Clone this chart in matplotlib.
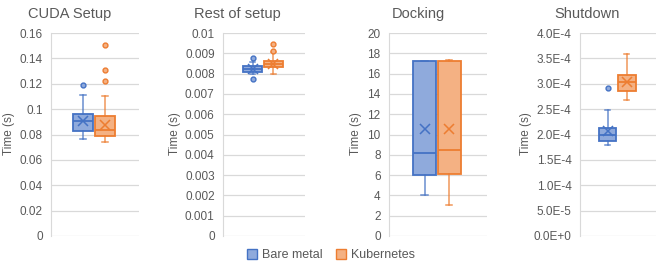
import matplotlib
matplotlib.use("Agg")
import matplotlib.pyplot as plt
from matplotlib.ticker import FuncFormatter, MultipleLocator

plt.rcParams['font.family'] = ['Liberation Sans', 'DejaVu Sans']

titles = ["CUDA Setup", "Rest of setup", "Docking", "Shutdown"]
series = ["Bare metal", "Kubernetes"]

# box stats per panel: [bare metal, kubernetes]
whislo = [[0.0766, 0.0739], [0.00797, 0.0080], [4.07, 3.1], [1.80e-4, 2.68e-4]]
q1 = [[0.0829, 0.0787], [0.0081, 0.00832], [5.97, 6.07], [1.88e-4, 2.86e-4]]
med = [[0.091, 0.0837], [0.00825, 0.00847], [8.2, 8.5], [2.0e-4, 3.03e-4]]
q3 = [[0.0958, 0.0945], [0.00838, 0.00863], [17.2, 17.25], [2.13e-4, 3.18e-4]]
whishi = [[0.1113, 0.1103], [0.00855, 0.00907], [17.25, 17.35], [2.48e-4, 3.58e-4]]
means = [[0.0905, 0.0874], [0.00825, 0.00847], [10.55, 10.55], [2.06e-4, 3.03e-4]]
fliers = [[[0.1192], [0.1218, 0.131, 0.1505]],
          [[0.00875, 0.00773], [0.00913, 0.00947]],
          [[], []],
          [[2.92e-4], []]]

ymax = [0.16, 0.01, 20, 4.0e-4]
ystep = [0.02, 0.001, 2, 0.5e-4]

edge = ["#4472C4", "#ED7D31"]
fill = ["#8FAADC", "#F4B183"]
grid_col = "#D9D9D9"
text_col = "#595959"

# axes boxes in pixels: left, right
ax_px = [(51, 139), (223, 305), (389, 487), (580, 656)]
title_x = [70, 237, 418, 587]
ylab_x = [9, 175, 356, 526]
W, H = 664, 266
top, bot = 33, 236


def sci(v, pos):
    if v == 0:
        return "0.0E+0"
    m, e = f"{v:.1E}".split("E")
    e = int(e)
    return f"{m}E{e:+d}"


fig = plt.figure(figsize=(W / 100, H / 100), dpi=100)

for i in range(4):
    l, r = ax_px[i]
    ax = fig.add_axes([l / W, 1 - bot / H, (r - l) / W, (bot - top) / H])
    for j in range(2):
        st = dict(whislo=whislo[i][j], q1=q1[i][j], med=med[i][j], q3=q3[i][j],
                  whishi=whishi[i][j], mean=means[i][j], fliers=fliers[i][j])
        ax.bxp([st], positions=[j + 1], widths=0.93, patch_artist=True,
               showmeans=True, meanline=False,
               boxprops=dict(facecolor=fill[j], edgecolor=edge[j], linewidth=1.3),
               medianprops=dict(color=edge[j], linewidth=1.3),
               whiskerprops=dict(color=edge[j], linewidth=1.1, alpha=0.8),
               capprops=dict(color=edge[j], linewidth=1.1, alpha=0.8),
               capwidths=0.25,
               meanprops=dict(marker="x", markeredgecolor=edge[j], markersize=7.5,
                              markeredgewidth=1.1),
               flierprops=dict(marker="o", markerfacecolor=fill[j], markeredgecolor=edge[j],
                               markersize=3.5, markeredgewidth=1.0))
    ax.set_xlim(-0.44, 3.53)
    ax.set_ylim(0, ymax[i])
    ax.yaxis.set_major_locator(MultipleLocator(ystep[i]))
    if i == 3:
        ax.yaxis.set_major_formatter(FuncFormatter(sci))
    else:
        ax.yaxis.set_major_formatter(FuncFormatter(lambda v, p: f"{round(v, 6):g}"))
    ax.set_xticks([])
    ax.grid(axis="y", color=grid_col, linewidth=0.9)
    ax.set_axisbelow(True)
    for s in ["top", "right", "bottom"]:
        ax.spines[s].set_visible(False)
    ax.spines["left"].set_color(grid_col)
    ax.tick_params(axis="y", length=0, labelsize=8.5, labelcolor=text_col, pad=6)
    fig.text(title_x[i] / W, 1 - 14 / H, titles[i], ha="center", va="center",
             fontsize=10.5, color=text_col)
    fig.text(ylab_x[i] / W, 1 - 134 / H, "Time (s)", ha="center", va="center",
             rotation=90, fontsize=8.5, color=text_col)

handles = [plt.Rectangle((0, 0), 1, 1, facecolor=fill[j], edgecolor=edge[j], linewidth=1.0)
           for j in range(2)]
fig.legend(handles, series, loc="center", bbox_to_anchor=(331 / W, 1 - 255 / H), ncol=2,
           frameon=False, fontsize=9, labelcolor=text_col, handlelength=0.8,
           handleheight=0.8, handletextpad=0.4, columnspacing=1.0)

fig.savefig("out.png", dpi=100)
